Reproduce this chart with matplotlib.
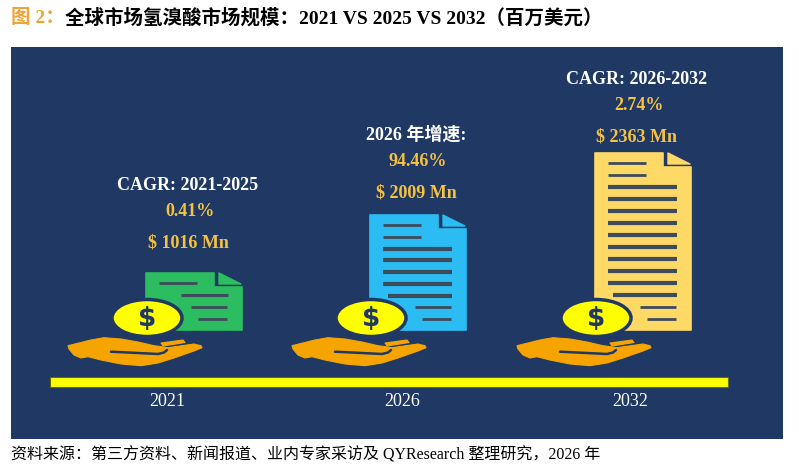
import matplotlib
matplotlib.use('Agg')
import matplotlib.pyplot as plt
from matplotlib.patches import Rectangle, Polygon, Ellipse

# chart data
years = ['2021', '2026', '2032']
market_size = [1016, 2009, 2363]          # million USD
rate_titles = ['CAGR: 2021-2025', '2026 年增速:', 'CAGR: 2026-2032']
rates = [0.41, 94.46, 2.74]              # %

title_tag = '图 2：'
title_text = '全球市场氢溴酸市场规模：2021 VS 2025 VS 2032（百万美元）'
source_text = '资料来源：第三方资料、新闻报道、业内专家采访及 QYResearch 整理研究，2026 年'

# layout (pixel coords, y grows downward)
W, H = 799, 472
navy = '#1f3864'
gold = '#f5c242'
orange = '#f6a400'
line_col = '#3d4b5c'
doc_colors = ['#2bbd5f', '#2abcf3', '#ffd966']
doc_x0 = [146, 370, 595]
doc_top = [273, 215, 153]
doc_bottom = 330
doc_w = 96
text_x = [188, 416, 637]
size_y = [243, 193, 137]
year_x = [167, 402, 630]

serif = ['Liberation Serif', 'Noto Sans CJK SC']

# hand outline, local coords (left, top of hand)
hand_pts = [(0, 8.7), (23, 3), (36, 0.7), (53, 2), (70, 5), (86, 8.7),
            (93, 9.6), (100, 10.7), (126, 7), (133, 8.7), (134, 10.7),
            (126, 14), (106, 21), (90, 26), (73, 28.7), (53, 27), (33, 23),
            (20, 19.7), (13, 21), (6, 18), (1, 12)]
thumb_pts = [(93, 6), (115, 3), (117, 5.5), (95, 9)]
hand_line = [(43, 14.7), (70, 16), (90, 17), (96, 15.5), (99, 13)]


def draw_doc(ax, x0, top, color):
    x1 = x0 + doc_w
    b = doc_bottom
    nx, ny = x1 - 28, top + 14
    body = Polygon([(x0, top), (nx, top), (nx, ny), (x1, ny), (x1, b), (x0, b)],
                   closed=True, fc=color, ec=color, lw=1.2, joinstyle='round')
    ax.add_patch(body)
    fold = Polygon([(x1 - 23, top), (x1 - 1, top + 11), (x1 - 23, top + 11)],
                   closed=True, fc=color, ec=color, lw=1, joinstyle='round')
    ax.add_patch(fold)

    h = b - top
    n = int(round((h - 20) / 12.2)) + 1
    if n >= 5:
        kinds = ['short', 'short'] + ['long'] * (n - 5) + ['indent', 'right', 'right2']
    else:
        kinds = ['short', 'indent2', 'right', 'right2']
    spans = {'short': (13, 51, 2.0), 'long': (13, 82, 3.0), 'indent': (18, 82, 3.0),
             'indent2': (35, 82, 2.2), 'right': (45, 81, 2.0), 'right2': (52, 81, 2.0)}
    ys = [top + 10 + k * (h - 21) / (n - 1) for k in range(n)]
    for kind, yy in zip(kinds, ys):
        a, c, lw = spans[kind]
        ax.plot([x0 + a, x0 + c], [yy, yy], color=line_col, lw=lw,
                solid_capstyle='butt', zorder=3)


def draw_coin_hand(ax, cx, cy):
    ax.add_patch(Ellipse((cx, cy), 70, 37, fc='#ffff00', ec=navy, lw=2.5, zorder=4))
    ax.text(cx, cy + 1, '$', color=navy, fontsize=19, fontweight='bold',
            family='DejaVu Sans', ha='center', va='center', zorder=5)
    hx, hy = cx - 79, cy + 19
    ax.add_patch(Polygon([(hx + px, hy + py) for px, py in hand_pts], closed=True,
                         fc=orange, ec=orange, lw=0.8, joinstyle='round', zorder=4))
    ax.add_patch(Polygon([(hx + px, hy + py) for px, py in thumb_pts], closed=True,
                         fc=orange, ec=orange, lw=0.8, joinstyle='round', zorder=4))
    ax.plot([hx + px for px, py in hand_line], [hy + py for px, py in hand_line],
            color=navy, lw=1.8, solid_capstyle='round', zorder=5)


fig = plt.figure(figsize=(W / 100, H / 100), dpi=100)
ax = fig.add_axes([0, 0, 1, 1])
ax.set_xlim(0, W)
ax.set_ylim(H, 0)
ax.axis('off')

# background panel
ax.add_patch(Rectangle((11, 47), 772, 392, fc=navy, ec='none'))

for i in range(3):
    draw_doc(ax, doc_x0[i], doc_top[i], doc_colors[i])
    draw_coin_hand(ax, doc_x0[i] + 1, 318)
    ax.text(text_x[i], size_y[i] - 58, rate_titles[i], color='white', fontsize=13,
            fontweight='bold', family=serif, ha='center', va='center')
    ax.text(text_x[i] + 2, size_y[i] - 31, f'{rates[i]:.2f}%', color=gold, fontsize=13,
            fontweight='bold', family=serif, ha='center', va='center')
    ax.text(text_x[i], size_y[i], f'$ {market_size[i]} Mn', color=gold, fontsize=13,
            fontweight='bold', family=serif, ha='center', va='center')
    ax.text(year_x[i], 401, years[i], color='white', fontsize=13,
            family=serif, ha='center', va='center')

# baseline bar
ax.add_patch(Rectangle((50, 377), 678, 10, fc='#ffff00', ec='#6b6b00', lw=0.8, zorder=2))

# title and source
tag = ax.text(11, 18, title_tag, color='#eda53a', fontsize=14, fontweight='bold',
              family=serif, ha='left', va='center')
ax.annotate(title_text, xy=(1, 0.5), xycoords=tag, color='black', fontsize=14,
            fontweight='bold', family=serif, ha='left', va='center')
ax.text(11, 455, source_text, color='black', fontsize=11.5, family=serif,
        ha='left', va='center')

fig.savefig('out.png', dpi=100)
